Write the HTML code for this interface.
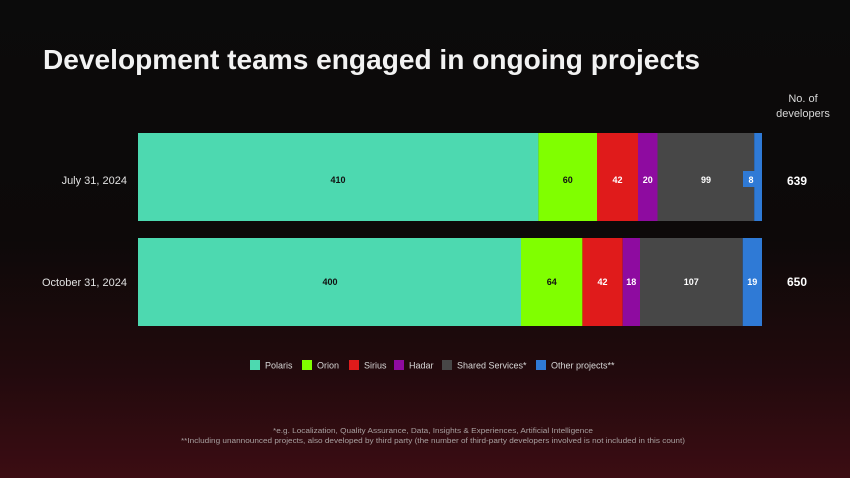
<!DOCTYPE html>
<html><head><meta charset="utf-8"><style>
html,body{margin:0;padding:0;background:#0b0b0b;}
svg{display:block;font-family:"Liberation Sans",sans-serif;}
</style></head><body>
<svg width="850" height="478" viewBox="0 0 850 478" xmlns="http://www.w3.org/2000/svg">
<defs>
<linearGradient id="bg" x1="0" y1="0" x2="0" y2="1">
<stop offset="0" stop-color="#0b0b0b"/>
<stop offset="0.5" stop-color="#0d0909"/>
<stop offset="0.78" stop-color="#220a0d"/>
<stop offset="1" stop-color="#3c0d13"/>
</linearGradient>
</defs>
<rect width="850" height="478" fill="url(#bg)"/>
<text x="43" y="69" font-size="28" font-weight="bold" fill="#f2f2f2" textLength="657" lengthAdjust="spacingAndGlyphs">Development teams engaged in ongoing projects</text>
<text x="803" y="102" font-size="11" fill="#d8d8d8" text-anchor="middle">No. of</text>
<text x="803" y="117" font-size="11" fill="#d8d8d8" text-anchor="middle">developers</text>

<rect x="138" y="133" width="400.4" height="88" fill="#4dd9b0"/>
<rect x="538.4" y="133" width="58.6" height="88" fill="#80ff00"/>
<rect x="597" y="133" width="41" height="88" fill="#e01b1b"/>
<rect x="638" y="133" width="19.5" height="88" fill="#8e0ba0"/>
<rect x="657.5" y="133" width="96.7" height="88" fill="#474747"/>
<rect x="754.2" y="133" width="7.8" height="88" fill="#2f7ad6"/>
<rect x="743" y="171" width="12" height="16" fill="#2f7ad6"/>
<g font-size="9" font-weight="bold" text-anchor="middle">
<text x="338" y="183" fill="#111">410</text>
<text x="567.7" y="183" fill="#111">60</text>
<text x="617.5" y="183" fill="#fff">42</text>
<text x="647.7" y="183" fill="#fff">20</text>
<text x="706" y="183" fill="#fff">99</text>
<text x="751" y="183" fill="#fff">8</text>
</g>
<text x="127" y="184" font-size="11" fill="#e0e0e0" text-anchor="end">July 31, 2024</text>
<text x="797" y="185" font-size="12" font-weight="bold" fill="#fff" text-anchor="middle">639</text>

<rect x="138" y="238" width="383" height="88" fill="#4dd9b0"/>
<rect x="521" y="238" width="61.4" height="88" fill="#80ff00"/>
<rect x="582.4" y="238" width="40.3" height="88" fill="#e01b1b"/>
<rect x="622.7" y="238" width="17.3" height="88" fill="#8e0ba0"/>
<rect x="640" y="238" width="102.7" height="88" fill="#474747"/>
<rect x="742.7" y="238" width="19.3" height="88" fill="#2f7ad6"/>
<g font-size="9" font-weight="bold" text-anchor="middle">
<text x="330" y="285" fill="#111">400</text>
<text x="551.7" y="285" fill="#111">64</text>
<text x="602.5" y="285" fill="#fff">42</text>
<text x="631.3" y="285" fill="#fff">18</text>
<text x="691.3" y="285" fill="#fff">107</text>
<text x="752.3" y="285" fill="#fff">19</text>
</g>
<text x="127" y="286" font-size="11" fill="#e0e0e0" text-anchor="end">October 31, 2024</text>
<text x="797" y="286" font-size="12" font-weight="bold" fill="#fff" text-anchor="middle">650</text>

<g font-size="9" fill="#d8d8d8">
<rect x="250" y="360" width="10" height="10" fill="#4dd9b0"/><text x="265" y="368.5">Polaris</text>
<rect x="302" y="360" width="10" height="10" fill="#80ff00"/><text x="317" y="368.5">Orion</text>
<rect x="349" y="360" width="10" height="10" fill="#e01b1b"/><text x="364" y="368.5">Sirius</text>
<rect x="394" y="360" width="10" height="10" fill="#8e0ba0"/><text x="409" y="368.5">Hadar</text>
<rect x="442" y="360" width="10" height="10" fill="#474747"/><text x="457" y="368.5">Shared Services*</text>
<rect x="536" y="360" width="10" height="10" fill="#2f7ad6"/><text x="551" y="368.5">Other projects**</text>
</g>
<g font-size="7" fill="#a8a0a0" text-anchor="middle">
<text x="433" y="433" textLength="320" lengthAdjust="spacingAndGlyphs">*e.g. Localization, Quality Assurance, Data, Insights &amp; Experiences, Artificial Intelligence</text>
<text x="433" y="443" textLength="504" lengthAdjust="spacingAndGlyphs">**Including unannounced projects, also developed by third party (the number of third-party developers involved is not included in this count)</text>
</g>
</svg>
</body></html>
